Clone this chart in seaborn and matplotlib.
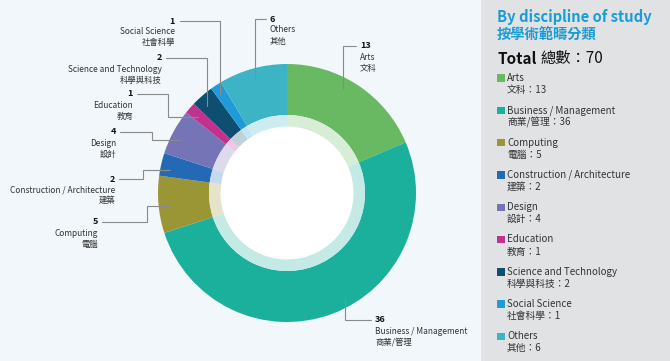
import numpy as np
import seaborn as sns
import matplotlib.pyplot as plt
from matplotlib.patches import Rectangle, Circle
from matplotlib.colors import to_rgb

# data
disciplines_en = ['Arts', 'Business / Management', 'Computing', 'Construction / Architecture',
                  'Design', 'Education', 'Science and Technology', 'Social Science', 'Others']
disciplines_zh = ['文科', '商業/管理', '電腦', '建築', '設計', '教育', '科學與科技', '社會科學', '其他']
counts = [13, 36, 5, 2, 4, 1, 2, 1, 6]
colours = ['#69b962', '#1bb09b', '#9a9535', '#2469b6', '#7574b6', '#c2318d',
           '#0e4e71', '#1e9bd8', '#3cb4c5']

sns.set_theme(style="white")
plt.rcParams['font.family'] = ['Noto Sans CJK TC', 'DejaVu Sans']
palette = sns.color_palette(colours)

W, H = 670, 361
fig = plt.figure(figsize=(6.7, 3.61), dpi=100, facecolor='#f1f7fa')
ax = fig.add_axes([0, 0, 1, 1])

def Y(y):  # pixel row -> data y
    return H - y

# right panel
ax.add_patch(Rectangle((481, 0), W - 481, H, color='#e1e2e4', zorder=0, lw=0))

cx, cy = 287, Y(193)
ax.pie(counts, colors=palette, startangle=90, counterclock=False, radius=129,
       center=(cx, cy), wedgeprops=dict(width=51, linewidth=0))
pale = [tuple(0.26 * np.array(to_rgb(c)) + 0.74) for c in colours]
ax.pie(counts, colors=pale, startangle=90, counterclock=False, radius=78,
       center=(cx, cy), wedgeprops=dict(width=12, linewidth=0))
ax.add_patch(Circle((cx, cy), 66.5, color='white', lw=0, zorder=5))

# pie() resets the limits, so fix them again here
ax.set_xlim(0, W)
ax.set_ylim(0, H)
ax.set_aspect('auto')
ax.axis('off')

# leader labels: (text x, number y, ha, leader polyline)
label_layout = [
    (360, 46, 'left', [(356, 46), (343, 46), (343, 89)]),
    (375, 320, 'left', [(371, 320), (345, 320), (345, 298)]),
    (98, 222, 'right', [(102, 222), (147, 222), (147, 206), (170, 206)]),
    (115, 179, 'right', [(119, 179), (143, 179), (143, 170), (170, 170)]),
    (116, 132, 'right', [(120, 132), (152, 132), (152, 140), (180, 140)]),
    (133, 94, 'right', [(137, 94), (168, 94), (168, 117), (198, 117)]),
    (162, 58, 'right', [(166, 58), (207, 58), (207, 106)]),
    (175, 21, 'right', [(180, 21), (220, 21), (220, 95)]),
    (270, 19, 'left', [(266, 19), (255, 19), (255, 79)]),
]
for (tx, ty, ha, pts), n, en, zh in zip(label_layout, counts, disciplines_en, disciplines_zh):
    xs = [p[0] for p in pts]
    ys = [Y(p[1]) for p in pts]
    ax.plot(xs, ys, color='#8a8a8a', lw=0.8, zorder=6, solid_joinstyle='miter')
    ax.text(tx, Y(ty), str(n), ha=ha, va='center', fontsize=6.5, fontweight='bold', color='#111111')
    ax.text(tx, Y(ty + 11), en, ha=ha, va='center', fontsize=6, color='#333333')
    ax.text(tx, Y(ty + 22), zh, ha=ha, va='center', fontsize=6, color='#333333')

# legend panel
ax.text(497, Y(17), 'By discipline of study', ha='left', va='center', fontsize=10.6,
        fontweight='bold', color='#1a9cd4')
ax.text(497, Y(35), '按學術範疇分類', ha='left', va='center', fontsize=10.3,
        fontweight='bold', color='#1a9cd4')
t = ax.text(497, Y(59), 'Total', ha='left', va='center', fontsize=11, fontweight='bold',
            color='#111111')
bb = t.get_window_extent(renderer=fig.canvas.get_renderer())
x_end = ax.transData.inverted().transform((bb.x1, bb.y0))[0]
ax.text(x_end + 4, Y(59), '總數：' + str(sum(counts)), ha='left', va='center', fontsize=11,
        color='#111111')
for i, (c, en, zh, n) in enumerate(zip(palette, disciplines_en, disciplines_zh, counts)):
    yy = 78 + i * 32.3
    ax.add_patch(Rectangle((497, Y(yy) - 3.8), 7.5, 7.5, color=c, lw=0))
    ax.text(507, Y(yy), en, ha='left', va='center', fontsize=7, color='#333333')
    ax.text(507, Y(yy + 12), zh + '：' + str(n), ha='left', va='center', fontsize=7,
            color='#333333')

fig.savefig('out.png', dpi=100, facecolor=fig.get_facecolor())
